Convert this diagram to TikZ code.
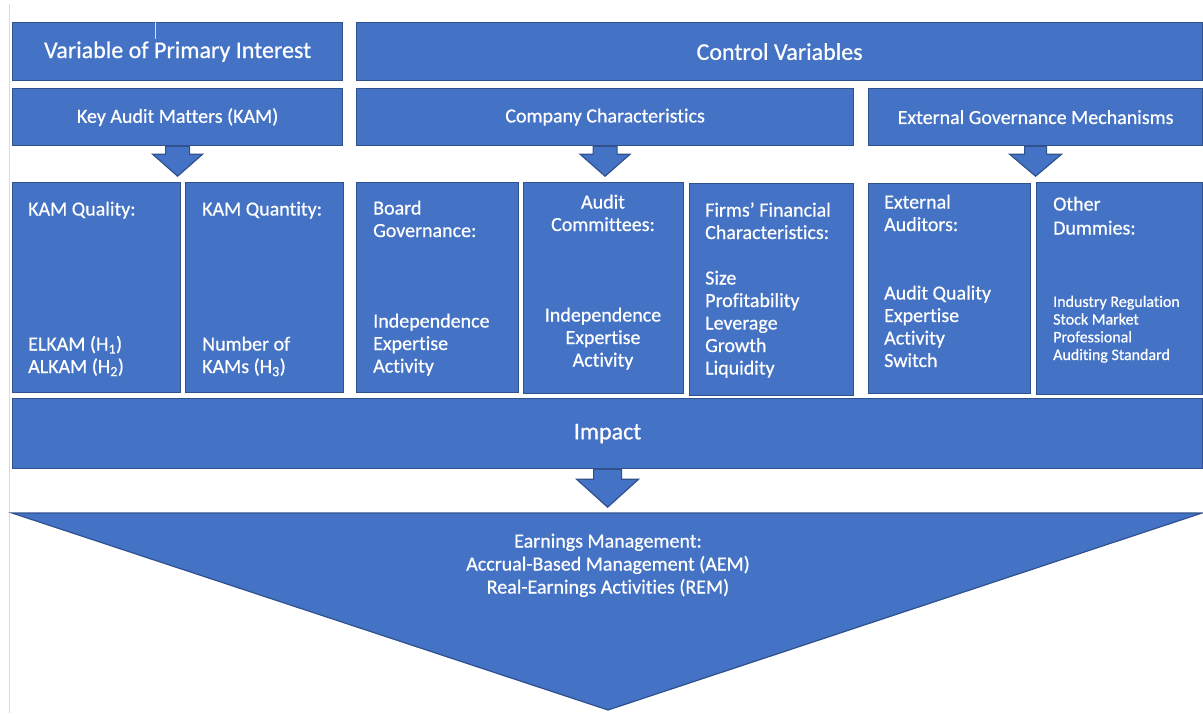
\documentclass[tikz,border=0pt]{standalone}
\usepackage{fontspec}
\setmainfont{Carlito}[Ligatures=NoCommon, FakeBold=0.6]

\definecolor{kamblue}{HTML}{4472C4}
\definecolor{kamedge}{HTML}{2F528F}

% block arrow pointing down: anchor, shaft half, head half, shaft length, head length
\newcommand{\blockdown}[5]{%
  \filldraw[arrowbox] (#1) ++(-#2,0) -- ++(0,#4) -- ++(#2-#3,0) -- ++(#3,#5)
    -- ++(#3,-#5) -- ++(#2-#3,0) -- ++(0,-#4) -- cycle;}

\tikzset{
  box/.style={draw=kamedge, fill=kamblue, line width=1.2pt, inner sep=0pt,
    anchor=north west, text=white},
  arrowbox/.style={draw=kamedge, fill=kamblue, line width=1.2pt, line join=miter},
  head/.style={font=\fontsize{24}{29}\selectfont},
  sub/.style={font=\fontsize{20}{24}\selectfont},
  % multi-line texts sit on the baseline of their last line
  item/.style={text=white, align=left, inner sep=0pt, anchor=base west,
    font=\fontsize{20}{22.5}\selectfont},
  small/.style={text=white, align=left, inner sep=0pt, anchor=base west,
    font=\fontsize{16}{17.7}\selectfont},
}

\begin{document}
\begin{tikzpicture}[x=1pt, y=-1pt]
  \useasboundingbox (0,0) rectangle (1203,713);

  % page edge
  \draw[gray!30, line width=1pt] (9,4) -- (9,713);

  % Row 1
  \node[box, head, minimum width=330, minimum height=58] (vpi) at (12,22) {Variable of Primary Interest};
  \node[box, head, minimum width=846, minimum height=58] (ctrl) at (356,22) {Control Variables};
  \draw[gray!25, line width=0.8pt] (155,22) -- (155,39);

  % Row 2
  \node[box, sub, minimum width=330, minimum height=57] (kam) at (12,88) {\raisebox{-1.5pt}{Key Audit Matters (KAM)}};
  \node[box, sub, minimum width=497, minimum height=57] (comp) at (356,88) {\raisebox{-1.5pt}{Company Characteristics}};
  \node[box, sub, minimum width=334, minimum height=57] (ext) at (868,88) {\raisebox{-1.5pt}{External Governance Mechanisms}};

  \blockdown{kam.south}{12}{25}{8}{22}
  \blockdown{comp.south}{12}{25}{8}{22}
  \blockdown{ext.south}{11}{26}{8}{22}

  % Row 3
  \foreach \name/\x/\y/\w/\h in {kamq/12/182/168/210, kamn/185/182/158/210,
      board/356/182/162/210, audc/523/182/160/211, firm/689/183/164/212,
      extaud/868/183/162/210, other/1036/182/166/212}
    \node[box, minimum width=\w, minimum height=\h] (\name) at (\x,\y) {};

  \node[item] (kamq-t) at (28,215.5) {KAM Quality:};
  \node[item] (kamq-l) at (28,373) {ELKAM (H\textsubscript{1})\\ALKAM (H\textsubscript{2})};

  \node[item] (kamn-t) at (202,215.5) {KAM Quantity:};
  \node[item] (kamn-l) at (202,373) {Number of\\KAMs (H\textsubscript{3})};

  \node[item] (board-t) at (373,237) {Board\\Governance:};
  \node[item] (board-l) at (373,372.5) {Independence\\Expertise\\Activity};

  \node[item, align=center, anchor=base] (audc-t) at (603,231) {Audit\\Committees:};
  \node[item, align=center, anchor=base] (audc-l) at (603,366.5) {Independence\\Expertise\\Activity};

  \node[item] (firm-t) at (705,239) {Firms’ Financial\\Characteristics:};
  \node[item] (firm-l) at (705,374.5) {Size\\Profitability\\Leverage\\Growth\\Liquidity};

  \node[item] (extaud-t) at (884,231) {External\\Auditors:};
  \node[item] (extaud-l) at (884,367) {Audit Quality\\Expertise\\Activity\\Switch};

  \node[item, font=\fontsize{20}{24}\selectfont] (other-t) at (1053,234.5) {Other\\Dummies:};
  \node[small] (other-l) at (1053,360) {Industry Regulation\\Stock Market\\Professional\\Auditing Standard};

  % Impact
  \node[box, head, minimum width=1190, minimum height=70] (impact) at (12,398) {\raisebox{-2pt}{Impact}};
  \blockdown{impact.south}{14}{31}{10}{28}

  % Earnings management
  \coordinate (tl) at (12,513);
  \coordinate (tr) at (1202,513);
  \coordinate (tip) at (608,710);
  \filldraw[arrowbox] (tl) -- (tr) -- (tip) -- cycle;
  \node[text=white, align=center, anchor=base, inner sep=0pt,
    font=\fontsize{20}{23}\selectfont] (em) at (608,593.5)
    {Earnings Management:\\Accrual-Based Management (AEM)\\Real-Earnings Activities (REM)};

\end{tikzpicture}
\end{document}
